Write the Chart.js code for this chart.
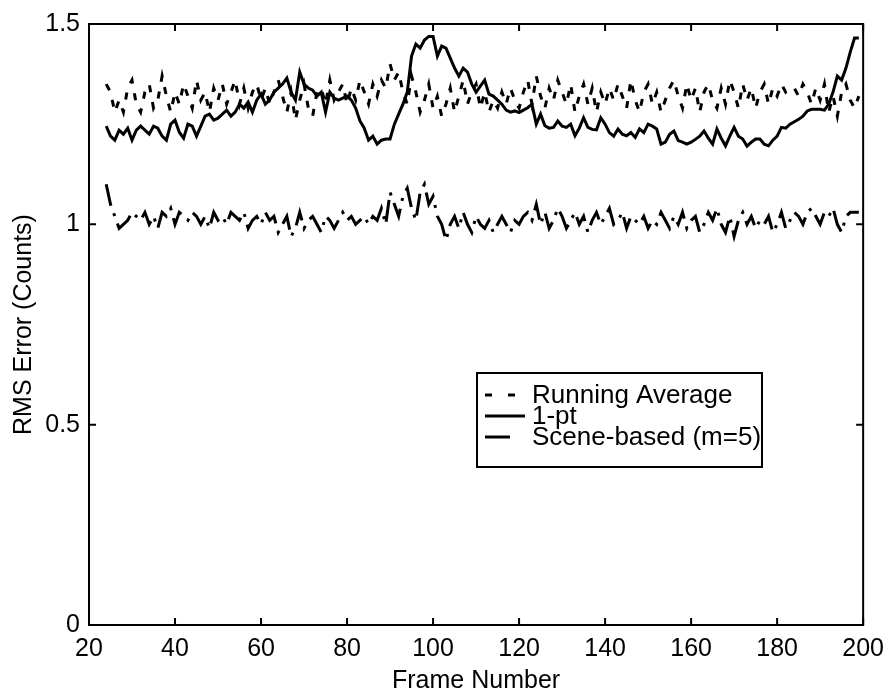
<!DOCTYPE html>
<html lang="en">
<head>
    <meta charset="UTF-8">
    <title>RMS Error</title>
    <script src="https://cdn.jsdelivr.net/npm/chart.js@4.4.0/dist/chart.umd.min.js"></script>
    <style>
        body { margin: 0; background: #fff; }
        #wrap { width: 893px; height: 696px; }
    </style>
</head>
<body>
    <div id="wrap"><canvas id="myChart" width="893" height="696"></canvas></div>

    <script>
        // frames 24..199, one value per frame
        const firstFrame = 24;
        const xTicks = [20, 40, 60, 80, 100, 120, 140, 160, 180, 200];
        const yTicks = [0, 0.5, 1, 1.5];
        const seriesNames = ['Running Average', '1-pt', 'Scene-based (m=5)'];

        const runningAvg = [
            1.35, 1.33, 1.28, 1.31, 1.28, 1.34, 1.36, 1.30, 1.28, 1.33,
            1.35, 1.29, 1.31, 1.37, 1.32, 1.28, 1.33, 1.30, 1.35, 1.32,
            1.29, 1.36, 1.31, 1.33, 1.28, 1.34, 1.31, 1.35, 1.30, 1.33,
            1.36, 1.30, 1.34, 1.29, 1.33, 1.35, 1.31, 1.34, 1.30, 1.33,
            1.36, 1.32, 1.28, 1.33, 1.26, 1.31, 1.35, 1.29, 1.27, 1.33,
            1.34, 1.30, 1.36, 1.31, 1.33, 1.35, 1.30, 1.34, 1.31, 1.36,
            1.33, 1.30, 1.35, 1.32, 1.36, 1.34, 1.40, 1.36, 1.38, 1.33,
            1.30, 1.37, 1.33, 1.28, 1.31, 1.35, 1.29, 1.32, 1.27, 1.30,
            1.34, 1.28, 1.32, 1.36, 1.30, 1.33, 1.35, 1.29, 1.33, 1.28,
            1.31, 1.29, 1.33, 1.30, 1.34, 1.31, 1.29, 1.33, 1.36, 1.30,
            1.37, 1.32, 1.29, 1.34, 1.31, 1.36, 1.33, 1.30, 1.35, 1.28,
            1.32, 1.35, 1.30, 1.34, 1.28, 1.33, 1.30, 1.34, 1.31, 1.35,
            1.32, 1.29, 1.36, 1.31, 1.28, 1.33, 1.35, 1.30, 1.33, 1.28,
            1.31, 1.34, 1.36, 1.32, 1.29, 1.35, 1.31, 1.34, 1.28, 1.33,
            1.35, 1.31, 1.29, 1.34, 1.30, 1.36, 1.33, 1.29, 1.35, 1.31,
            1.34, 1.29, 1.33, 1.35, 1.30, 1.34, 1.32, 1.35, 1.33, 1.34,
            1.34, 1.32, 1.35, 1.33, 1.30, 1.34, 1.31, 1.35, 1.28, 1.32,
            1.27, 1.33, 1.35, 1.31, 1.29, 1.32
        ];

        const onePt = [
            1.245, 1.22, 1.21, 1.235, 1.225, 1.24, 1.21, 1.235, 1.245, 1.235,
            1.225, 1.245, 1.24, 1.22, 1.21, 1.25, 1.26, 1.23, 1.215, 1.25,
            1.245, 1.22, 1.245, 1.27, 1.275, 1.26, 1.265, 1.275, 1.285, 1.27,
            1.28, 1.30, 1.29, 1.305, 1.28, 1.31, 1.325, 1.30, 1.31, 1.33,
            1.34, 1.35, 1.365, 1.33, 1.31, 1.38, 1.35, 1.34, 1.335, 1.32,
            1.33, 1.28, 1.33, 1.315, 1.31, 1.315, 1.32, 1.31, 1.29, 1.258,
            1.24, 1.21, 1.22, 1.20, 1.21, 1.213, 1.213, 1.25, 1.275, 1.30,
            1.33, 1.42, 1.45, 1.44, 1.46, 1.469, 1.469, 1.42, 1.445, 1.44,
            1.415, 1.39, 1.37, 1.39, 1.38, 1.35, 1.33, 1.345, 1.36, 1.325,
            1.32, 1.31, 1.30, 1.285, 1.28, 1.283, 1.279, 1.285, 1.291, 1.30,
            1.25, 1.275, 1.246, 1.24, 1.242, 1.258, 1.245, 1.242, 1.25, 1.221,
            1.24, 1.266, 1.242, 1.237, 1.236, 1.266, 1.25, 1.229, 1.22, 1.238,
            1.225, 1.221, 1.229, 1.217, 1.238, 1.229, 1.25, 1.245, 1.238, 1.20,
            1.205, 1.225, 1.233, 1.209, 1.205, 1.20, 1.205, 1.212, 1.22, 1.233,
            1.215, 1.20, 1.238, 1.215, 1.196, 1.22, 1.242, 1.22, 1.213, 1.195,
            1.205, 1.213, 1.213, 1.20, 1.196, 1.21, 1.22, 1.242, 1.24, 1.25,
            1.256, 1.262, 1.27, 1.283, 1.287, 1.287, 1.287, 1.285, 1.30, 1.33,
            1.37, 1.36, 1.39, 1.43, 1.465, 1.465
        ];

        const sceneBased = [
            1.10, 1.05, 1.02, 0.99, 1.00, 1.01, 1.03, 1.02, 1.01, 1.03,
            1.00, 1.02, 0.99, 1.03, 1.02, 1.04, 1.00, 1.03, 1.02, 1.01,
            1.03, 1.02, 1.00, 1.02, 0.99, 1.03, 1.01, 1.02, 1.00, 1.03,
            1.02, 1.01, 1.03, 0.99, 1.01, 1.02, 1.00, 1.03, 1.01, 1.02,
            0.98, 1.00, 1.02, 0.97, 0.99, 1.03, 0.99, 1.01, 1.02, 1.00,
            0.98, 1.02, 1.01, 0.99, 1.01, 1.03, 1.01, 1.02, 1.00, 1.01,
            1.02, 1.00, 1.02, 1.01, 1.04, 1.00, 1.08, 1.05, 1.02, 1.07,
            1.09, 1.04, 1.01, 1.08, 1.10, 1.05, 1.07, 1.02, 1.00, 0.96,
            1.00, 1.02, 0.99, 1.03, 1.00, 0.98, 1.02, 1.00, 0.99, 1.01,
            0.98, 1.00, 1.02, 1.00, 0.98, 1.01, 1.00, 1.02, 1.03, 1.01,
            1.05, 1.00, 1.03, 0.99, 1.01, 1.04, 1.02, 0.99, 1.01, 1.03,
            1.00, 1.02, 0.98, 1.01, 1.03, 1.00, 1.02, 1.04, 1.00, 1.01,
            1.03, 0.99, 1.02, 1.01, 1.00, 1.02, 0.99, 1.01, 1.00, 1.03,
            1.01, 0.99, 1.02, 1.00, 1.03, 0.99, 1.01, 1.02, 0.98, 1.00,
            1.03, 1.01, 1.04, 1.00, 0.98, 1.02, 0.97, 1.01, 1.03, 1.00,
            1.02, 0.99, 1.01, 1.00, 1.02, 0.98, 1.00, 1.03, 0.99, 1.01,
            1.03, 1.02, 1.00, 1.03, 1.04, 1.02, 1.00, 1.03, 1.02, 1.04,
            1.00, 0.98, 1.02, 1.03, 1.03, 1.03
        ];

        const toPoints = arr => arr.map((v, i) => ({ x: firstFrame + i, y: v }));
        const FONT = { family: '"Liberation Sans", Arial, Helvetica, sans-serif', size: 25 };

        // box, inward ticks and legend, drawn the way the old matlab plot looks
        const framePlugin = {
            id: 'frame',
            afterDraw(chart) {
                const ctx = chart.ctx;
                const a = chart.chartArea;
                const xs = chart.scales.x, ys = chart.scales.y;
                ctx.save();
                ctx.strokeStyle = '#000';
                ctx.lineWidth = 2;
                ctx.setLineDash([]);
                ctx.strokeRect(a.left, a.top, a.right - a.left, a.bottom - a.top);
                const len = 7;
                ctx.beginPath();
                xTicks.forEach(t => {
                    const px = xs.getPixelForValue(t);
                    ctx.moveTo(px, a.bottom); ctx.lineTo(px, a.bottom - len);
                    ctx.moveTo(px, a.top); ctx.lineTo(px, a.top + len);
                });
                yTicks.forEach(t => {
                    const py = ys.getPixelForValue(t);
                    ctx.moveTo(a.left, py); ctx.lineTo(a.left + len, py);
                    ctx.moveTo(a.right, py); ctx.lineTo(a.right - len, py);
                });
                ctx.stroke();

                // legend
                const bx = 477, by = 373, bw = 285, bh = 94;
                ctx.fillStyle = '#fff';
                ctx.fillRect(bx, by, bw, bh);
                ctx.strokeRect(bx, by, bw, bh);
                ctx.font = '26px ' + FONT.family;
                ctx.fillStyle = '#000';
                ctx.textBaseline = 'middle';
                const rows = [395, 416, 437];
                const sampleLen = [30, 40, 25];
                chart.data.datasets.forEach((ds, i) => {
                    ctx.lineWidth = 3;
                    ctx.setLineDash(i === 0 ? [7, 16] : []);
                    ctx.beginPath();
                    ctx.moveTo(485, rows[i]);
                    ctx.lineTo(485 + sampleLen[i], rows[i]);
                    ctx.stroke();
                    ctx.fillText(ds.label, 532, rows[i] + 1);
                });
                ctx.restore();
            }
        };

        const ctx = document.getElementById('myChart').getContext('2d');
        const myChart = new Chart(ctx, {
            type: 'line',
            data: {
                datasets: [{
                    label: seriesNames[0],
                    data: toPoints(runningAvg),
                    borderColor: '#000',
                    borderWidth: 3,
                    borderDash: [7, 10],
                    pointRadius: 0,
                    tension: 0
                }, {
                    label: seriesNames[1],
                    data: toPoints(onePt),
                    borderColor: '#000',
                    borderWidth: 3,
                    pointRadius: 0,
                    tension: 0
                }, {
                    label: seriesNames[2],
                    data: toPoints(sceneBased),
                    borderColor: '#000',
                    borderWidth: 3,
                    borderDash: [22, 8, 3, 8],
                    pointRadius: 0,
                    tension: 0
                }]
            },
            options: {
                responsive: false,
                animation: false,
                layout: { padding: { top: 19, right: 27, left: 9, bottom: 0 } },
                plugins: {
                    legend: { display: false },
                    tooltip: { enabled: false }
                },
                scales: {
                    x: {
                        type: 'linear',
                        min: 20,
                        max: 200,
                        afterBuildTicks: s => { s.ticks = xTicks.map(v => ({ value: v })); },
                        afterFit: s => { s.height = 71; },
                        grid: { display: false, drawTicks: false },
                        border: { display: false },
                        ticks: { color: '#000', font: FONT, padding: 9, maxRotation: 0 },
                        title: { display: true, text: 'Frame Number', color: '#000', font: FONT, padding: { top: 3, bottom: 0 } }
                    },
                    y: {
                        min: 0,
                        max: 1.5,
                        afterBuildTicks: s => { s.ticks = yTicks.map(v => ({ value: v })); },
                        afterFit: s => { s.width = 80; },
                        grid: { display: false, drawTicks: false },
                        border: { display: false },
                        ticks: { color: '#000', font: FONT, padding: 9, callback: v => String(v) },
                        title: { display: true, text: 'RMS Error (Counts)', color: '#000', font: FONT, padding: { top: 0, bottom: 0 } }
                    }
                }
            },
            plugins: [framePlugin]
        });
    </script>
</body>
</html>
